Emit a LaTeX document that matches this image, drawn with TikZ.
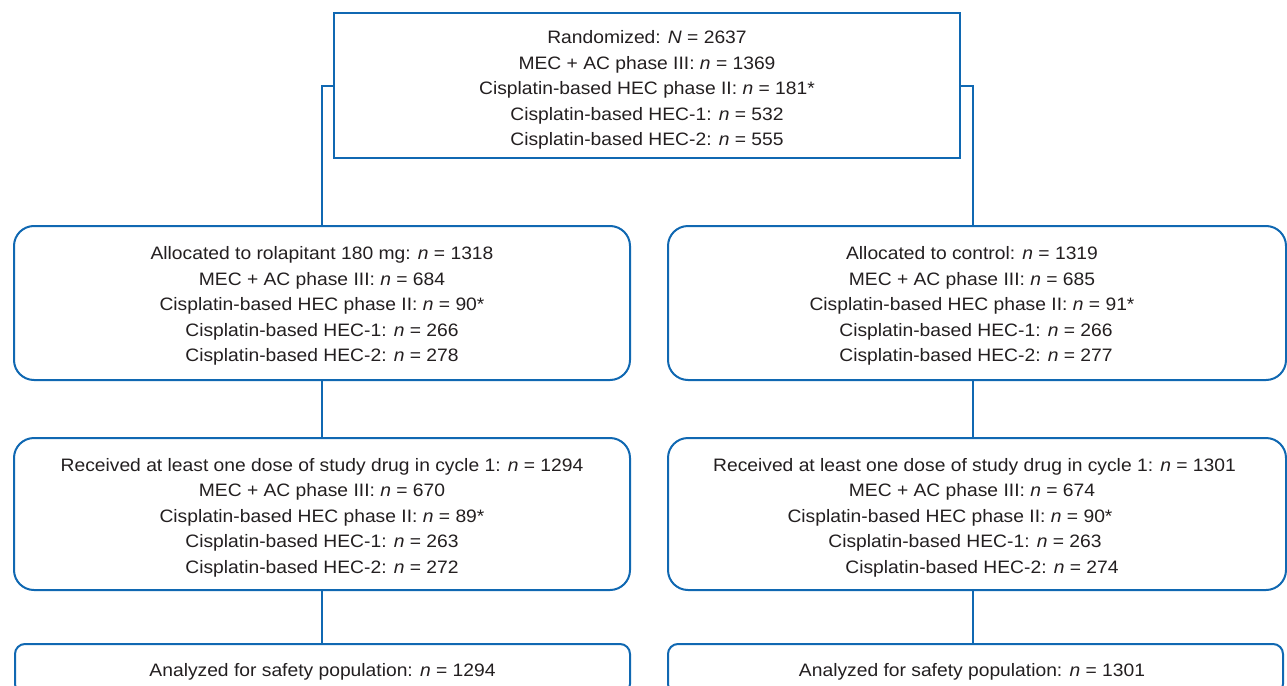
\documentclass[tikz,border=0pt]{standalone}
\usepackage{fontspec}
\setmainfont{Liberation Sans}[FakeStretch=1.07]
\definecolor{fblue}{HTML}{1068B2}
\definecolor{ftext}{HTML}{231F20}
\newcommand{\nn}{\textit{n}}
\newcommand{\tstrut}[1]{\rule{0pt}{#1pt}}
\begin{document}
\begin{tikzpicture}[x=1pt,y=-1pt,
  every node/.style={text=ftext, font=\fontsize{18}{25.5}\selectfont},
  sqbox/.style={draw=fblue, line width=2pt, inner sep=0pt, align=center},
  rbox/.style={sqbox, rounded corners=20pt},
  sbox/.style={sqbox, rounded corners=10pt},
  link/.style={draw=fblue, line width=2pt}]
\useasboundingbox (0,0) rectangle (1287,685);
\fill[white] (0,0) rectangle (1287,685);
\coordinate (rx) at (973,0);
\node[sqbox, minimum width=626pt, minimum height=145pt] (top) at (647,85.5)
 {\tstrut{22}Randomized: \textit{N} = 2637\\
  MEC + AC phase III: \nn{} = 1369\\
  Cisplatin-based HEC phase II: \nn{} = 181*\\
  Cisplatin-based HEC-1: \nn{} = 532\\
  Cisplatin-based HEC-2: \nn{} = 555};
\node[rbox, minimum width=616pt, minimum height=154pt] (lb1) at (322,303)
 {\tstrut{19.5}Allocated to rolapitant 180 mg: \nn{} = 1318\\
  MEC + AC phase III: \nn{} = 684\\
  Cisplatin-based HEC phase II: \nn{} = 90*\\
  Cisplatin-based HEC-1: \nn{} = 266\\
  Cisplatin-based HEC-2: \nn{} = 278};
\node[rbox, minimum width=618pt, minimum height=154pt] (rb1) at (977,303)
 {\tstrut{19.5}Allocated to control: \nn{} = 1319\kern10pt\\
  MEC + AC phase III: \nn{} = 685\kern10pt\\
  Cisplatin-based HEC phase II: \nn{} = 91*\kern10pt\\
  Cisplatin-based HEC-1: \nn{} = 266\kern2pt\\
  Cisplatin-based HEC-2: \nn{} = 277\kern2pt};
\node[rbox, minimum width=616pt, minimum height=152pt] (lb2) at (322,514)
 {\tstrut{20.5}Received at least one dose of study drug in cycle 1: \nn{} = 1294\\
  MEC + AC phase III: \nn{} = 670\\
  Cisplatin-based HEC phase II: \nn{} = 89*\\
  Cisplatin-based HEC-1: \nn{} = 263\\
  Cisplatin-based HEC-2: \nn{} = 272};
\node[rbox, minimum width=618pt, minimum height=152pt] (rb2) at (977,514)
 {\tstrut{20.5}Received at least one dose of study drug in cycle 1: \nn{} = 1301\kern5pt\\
  MEC + AC phase III: \nn{} = 674\kern10pt\\
  Cisplatin-based HEC phase II: \nn{} = 90*\kern54pt\\
  Cisplatin-based HEC-1: \nn{} = 263\kern24pt\\
  \kern10pt Cisplatin-based HEC-2: \nn{} = 274};
\node[sbox, minimum width=615pt, minimum height=50pt] (lb3) at (322.5,669)
 {\tstrut{18}Analyzed for safety population: \nn{} = 1294};
\node[sbox, minimum width=615pt, minimum height=50pt] (rb3) at (975.5,669)
 {\tstrut{18}Analyzed for safety population: \nn{} = 1301\kern7pt};
\draw[link] (top.west) -| (lb1.north);
\draw[link] (top.east) -| (rx |- rb1.north);
\draw[link] (lb1.south) -- (lb2.north);
\draw[link] (rx |- rb1.south) -- (rx |- rb2.north);
\draw[link] (lb2.south) -- (lb2.south |- lb3.north);
\draw[link] (rx |- rb2.south) -- (rx |- rb3.north);
\end{tikzpicture}
\end{document}
